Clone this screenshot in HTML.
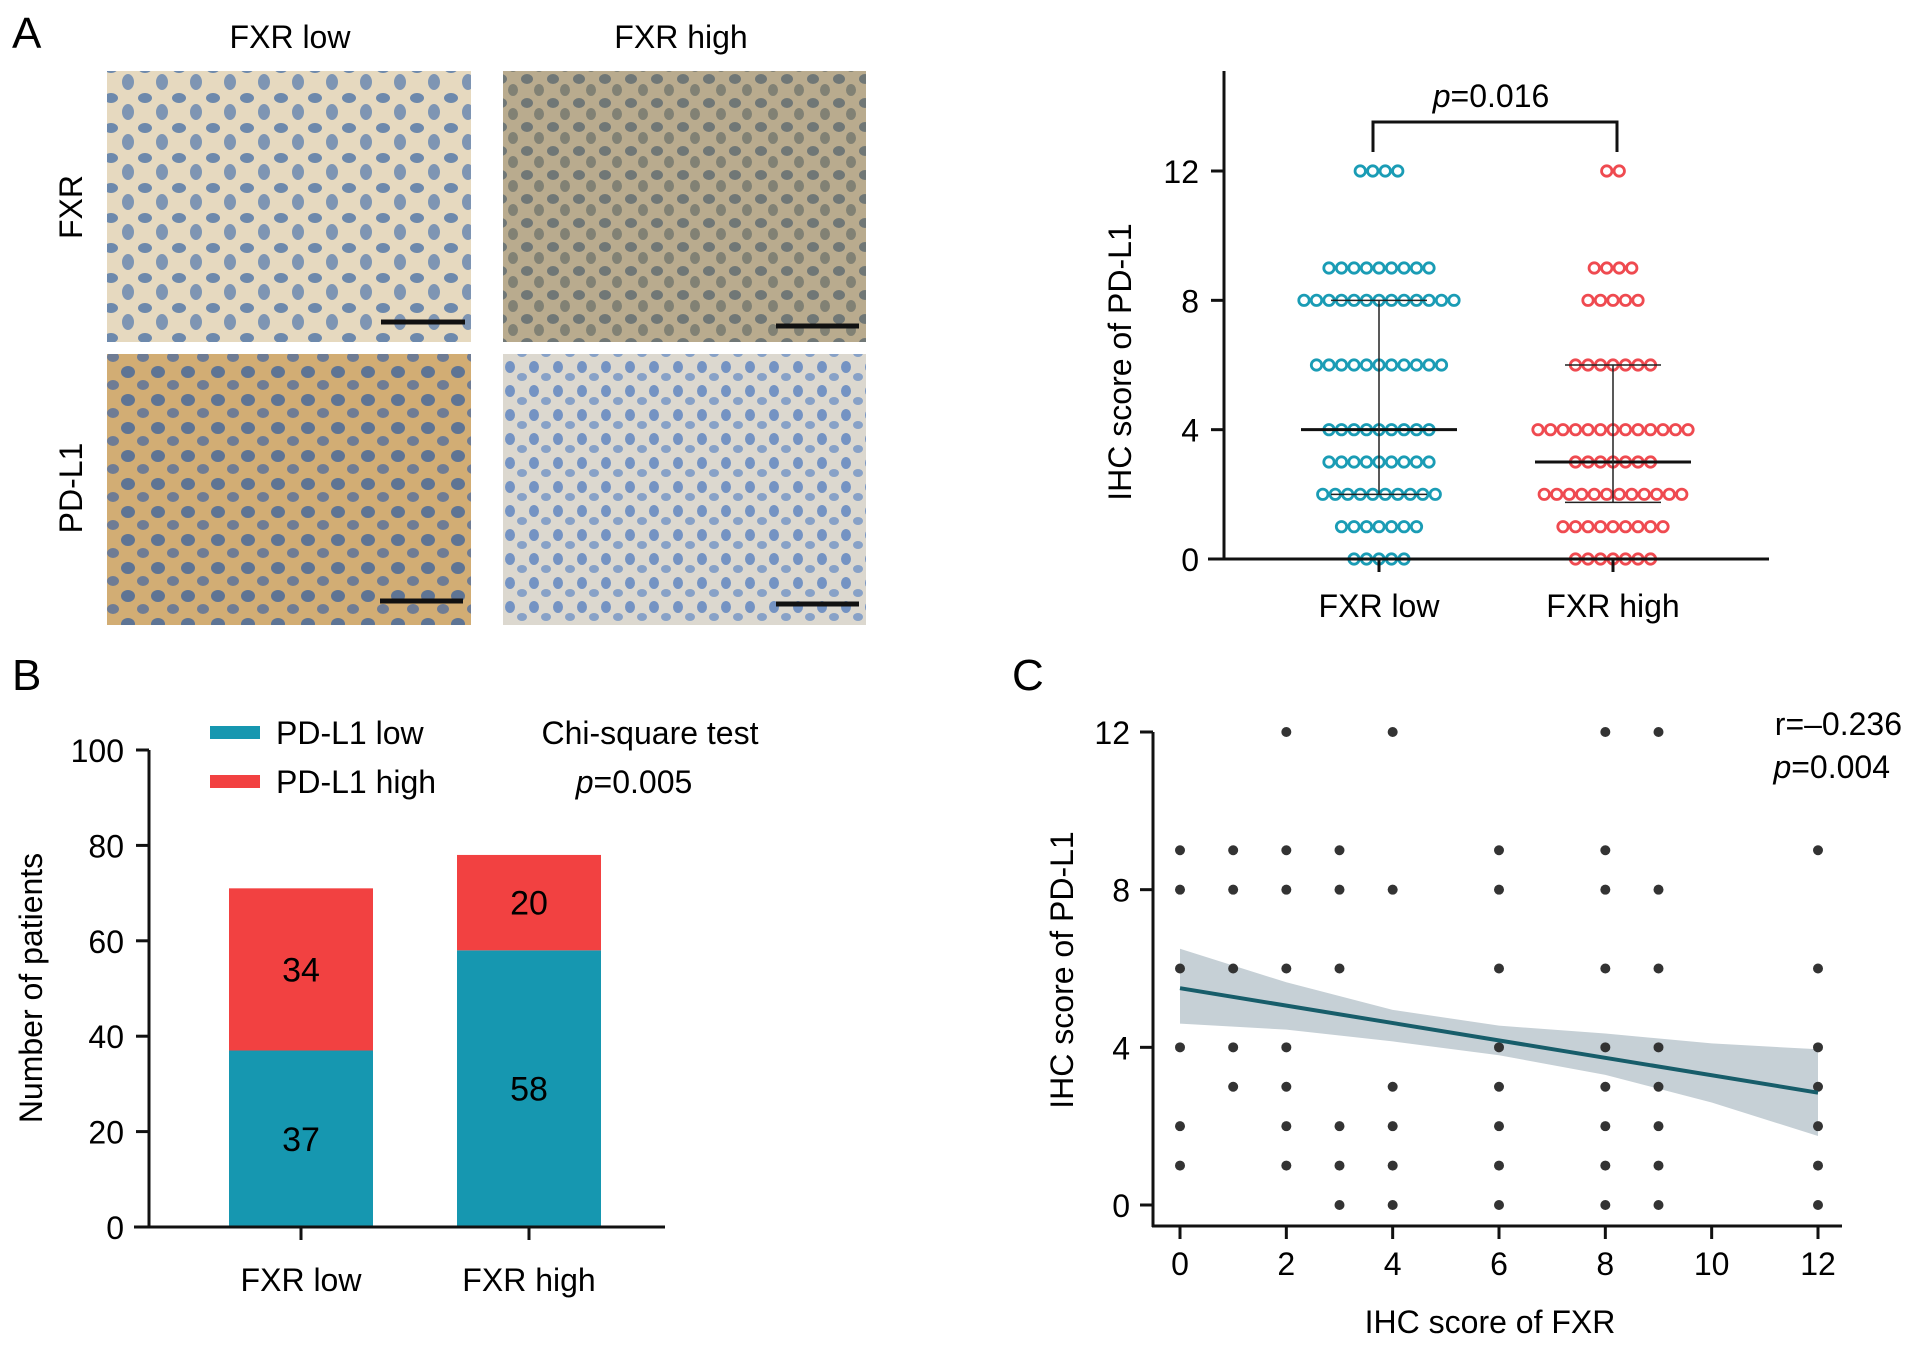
<!DOCTYPE html>
<html><head><meta charset="utf-8"><style>
body{margin:0;background:#fff;width:1913px;height:1348px;overflow:hidden;font-family:"Liberation Sans",Arial,sans-serif}
</style></head><body>
<svg id="fig" width="1913" height="1348" xmlns="http://www.w3.org/2000/svg" style="position:absolute;left:0;top:0;font-family:'Liberation Sans',Arial,sans-serif">
<defs>
<pattern id="nucA" width="34" height="30" patternUnits="userSpaceOnUse"><ellipse cx="9" cy="8" rx="7" ry="5" fill="#4f75a8" opacity="0.8"/><ellipse cx="26" cy="22" rx="6" ry="8" fill="#5a7fae" opacity="0.75"/></pattern>
<pattern id="nucB" width="26" height="24" patternUnits="userSpaceOnUse"><ellipse cx="7" cy="7" rx="6" ry="5" fill="#5e6a70" opacity="0.8"/><ellipse cx="19" cy="18" rx="5" ry="6" fill="#6a6f6a" opacity="0.7"/></pattern>
<pattern id="nucC" width="30" height="28" patternUnits="userSpaceOnUse"><ellipse cx="8" cy="8" rx="7" ry="6" fill="#4a6a9a" opacity="0.85"/><ellipse cx="23" cy="21" rx="6" ry="5" fill="#566f9c" opacity="0.8"/></pattern>
<pattern id="nucD" width="24" height="24" patternUnits="userSpaceOnUse"><ellipse cx="6" cy="7" rx="5" ry="6" fill="#5a82c0" opacity="0.8"/><ellipse cx="18" cy="17" rx="5" ry="4" fill="#6a8ec4" opacity="0.75"/></pattern>
</defs>
<g>
<rect x="107" y="71" width="364" height="271" fill="#e6d9bf"/>
<rect x="107" y="71" width="364" height="271" fill="url(#nucA)"/>
<rect x="503" y="71" width="363" height="271" fill="#b9ab8e"/>
<rect x="503" y="71" width="363" height="271" fill="url(#nucB)"/>
<rect x="107" y="354" width="364" height="271" fill="#d2ad74"/>
<rect x="107" y="354" width="364" height="271" fill="url(#nucC)"/>
<rect x="503" y="354" width="363" height="271" fill="#dcd8cf"/>
<rect x="503" y="354" width="363" height="271" fill="url(#nucD)"/>
<line x1="381" y1="322" x2="465" y2="322" stroke="#111" stroke-width="5"/>
<line x1="776" y1="326" x2="859" y2="326" stroke="#111" stroke-width="5"/>
<line x1="380" y1="601" x2="463" y2="601" stroke="#111" stroke-width="5"/>
<line x1="776" y1="604" x2="859" y2="604" stroke="#111" stroke-width="5"/>
</g>
<text x="12" y="48" font-size="44">A</text>
<text x="12" y="690" font-size="44">B</text>
<text x="1012" y="690" font-size="44">C</text>
<text x="290" y="48" font-size="32" text-anchor="middle">FXR low</text>
<text x="681" y="48" font-size="32" text-anchor="middle">FXR high</text>
<text transform="translate(82,207) rotate(-90)" font-size="32" text-anchor="middle">FXR</text>
<text transform="translate(82,488) rotate(-90)" font-size="32" text-anchor="middle">PD-L1</text>
<g id="scatA"></g>
<g id="barB"></g>
<g id="scatC"></g>
</svg>
<script>
const NS='http://www.w3.org/2000/svg';
function mk(p,t,a,txt){const e=document.createElementNS(NS,t);for(const k in a)e.setAttribute(k,a[k]);if(txt!==undefined)e.textContent=txt;p.appendChild(e);return e;}
const FS=32;

// ---- Panel A data ----
const aGroups=['FXR low','FXR high'];
const aLevels=[12,9,8,6,4,3,2,1,0];
const aCountsLow=[4,9,13,11,9,9,10,7,5];
const aCountsHigh=[2,4,5,7,13,7,12,9,7];
const aMedian=[4,3];
const aQ1=[2,1.75];
const aQ3=[8,6];
const aTicks=[0,4,8,12];
const aPText='=0.016';

// ---- Panel B data ----
const bCats=['FXR low','FXR high'];
const bLow=[37,58];
const bHigh=[34,20];
const bTicks=[0,20,40,60,80,100];

// ---- Panel C data ----
const cX=[0,0,0,0,0,0, 1,1,1,1,1, 2,2,2,2,2,2,2,2, 3,3,3,3,3,3, 4,4,4,4,4,4, 6,6,6,6,6,6,6,6, 8,8,8,8,8,8,8,8,8, 9,9,9,9,9,9,9,9, 12,12,12,12,12,12,12];
const cY=[9,8,6,4,2,1, 9,8,6,4,3, 12,9,8,6,4,3,2,1, 9,8,6,2,1,0, 12,8,3,2,1,0, 9,8,6,4,3,2,1,0, 12,9,8,6,4,3,2,1,0, 12,8,6,4,3,2,1,0, 9,6,4,3,2,1,0];
const cFitX=[0,12];
const cFitY=[5.5,2.85];
const cBandX=[0,2,4,6,8,10,12];
const cBandLo=[4.6,4.45,4.15,3.8,3.3,2.6,1.75];
const cBandHi=[6.5,5.65,4.95,4.55,4.35,4.1,3.95];
const cXTicks=[0,2,4,6,8,10,12];
const cYTicks=[0,4,8,12];

// ===== Panel A =====
(function(){
const g=document.getElementById('scatA');
const y=v=>559-v*(559-171)/12;
const gx=[1379,1613];
const cols=['#1a9cb5','#ef4a50'];
const counts=[aCountsLow,aCountsHigh];
const sp=12.5;
aGroups.forEach((nm,gi)=>{
  aLevels.forEach((lv,li)=>{
    const n=counts[gi][li];
    for(let k=0;k<n;k++){
      const c=mk(g,'circle',{cx:gx[gi]+(k-(n-1)/2)*sp,cy:y(lv),r:5.2,fill:'none',stroke:cols[gi],'stroke-width':2.8});
      
      
    }
  });
  const m=mk(g,'line',{x1:gx[gi]-78,x2:gx[gi]+78,y1:y(aMedian[gi]),y2:y(aMedian[gi]),stroke:'#111','stroke-width':3});
  
  
  const w=mk(g,'line',{x1:gx[gi],x2:gx[gi],y1:y(aQ1[gi]),y2:y(aQ3[gi]),stroke:'#222','stroke-width':1.5});
  
  
  [aQ1[gi],aQ3[gi]].forEach(v=>{
    const cap=mk(g,'line',{x1:gx[gi]-48,x2:gx[gi]+48,y1:y(v),y2:y(v),stroke:'#222','stroke-width':1.5});
    
    
  });
  mk(g,'line',{x1:gx[gi],x2:gx[gi],y1:559,y2:572,stroke:'#111','stroke-width':3});
  const t=mk(g,'text',{x:gx[gi],y:617,'font-size':FS,'text-anchor':'middle'},nm);
  
  
});
mk(g,'line',{x1:1224,x2:1224,y1:71,y2:560,stroke:'#111','stroke-width':3});
mk(g,'line',{x1:1208,x2:1769,y1:559,y2:559,stroke:'#111','stroke-width':3});
aTicks.forEach(v=>{
  mk(g,'line',{x1:1211,x2:1224,y1:y(v),y2:y(v),stroke:'#111','stroke-width':3});
  const t=mk(g,'text',{x:1199,y:y(v)+12,'font-size':FS,'text-anchor':'end'},v);
  
  
});
const yt=mk(g,'text',{transform:'translate(1131,362) rotate(-90)','font-size':FS,'text-anchor':'middle'},'IHC score of PD-L1');


mk(g,'path',{d:'M1373 152 V122 H1617 V152',fill:'none',stroke:'#111','stroke-width':3});
const pt=mk(g,'text',{x:1491,y:107,'font-size':FS,'text-anchor':'middle'});
mk(pt,'tspan',{'font-style':'italic'},'p');mk(pt,'tspan',{},aPText);


})();

// ===== Panel B =====
(function(){
const g=document.getElementById('barB');
const y=v=>1227-v*(1227-750)/100;
const bx=[229,457],bw=144;
bCats.forEach((c,i)=>{
  const r1=mk(g,'rect',{x:bx[i],y:y(bLow[i]),width:bw,height:y(0)-y(bLow[i]),fill:'#1697b0'});
  
  
  const r2=mk(g,'rect',{x:bx[i],y:y(bLow[i]+bHigh[i]),width:bw,height:y(bLow[i])-y(bLow[i]+bHigh[i]),fill:'#f24141'});
  
  
  const t1=mk(g,'text',{x:bx[i]+bw/2,y:(y(0)+y(bLow[i]))/2+12,'font-size':34,'text-anchor':'middle'},bLow[i]);
  
  
  const t2=mk(g,'text',{x:bx[i]+bw/2,y:(y(bLow[i])+y(bLow[i]+bHigh[i]))/2+12,'font-size':34,'text-anchor':'middle'},bHigh[i]);
  
  
  mk(g,'line',{x1:bx[i]+bw/2,x2:bx[i]+bw/2,y1:1227,y2:1240,stroke:'#111','stroke-width':3});
  const xl=mk(g,'text',{x:bx[i]+bw/2,y:1291,'font-size':FS,'text-anchor':'middle'},c);
  
  
});
mk(g,'line',{x1:149,x2:149,y1:750,y2:1228,stroke:'#111','stroke-width':3});
mk(g,'line',{x1:134,x2:665,y1:1227,y2:1227,stroke:'#111','stroke-width':3});
bTicks.forEach(v=>{
  mk(g,'line',{x1:136,x2:149,y1:y(v),y2:y(v),stroke:'#111','stroke-width':3});
  const t=mk(g,'text',{x:124,y:y(v)+12,'font-size':FS,'text-anchor':'end'},v);
  
  
});
const yt=mk(g,'text',{transform:'translate(42,988) rotate(-90)','font-size':FS,'text-anchor':'middle'},'Number of patients');


mk(g,'rect',{x:210,y:726,width:50,height:13,fill:'#1697b0'});
mk(g,'rect',{x:210,y:775,width:50,height:13,fill:'#f24141'});
const l1=mk(g,'text',{x:276,y:744,'font-size':FS},'PD-L1 low');


const l2=mk(g,'text',{x:276,y:793,'font-size':FS},'PD-L1 high');


const ch=mk(g,'text',{x:650,y:744,'font-size':FS,'text-anchor':'middle'},'Chi-square test');


const pv=mk(g,'text',{x:634,y:793,'font-size':FS,'text-anchor':'middle'});
mk(pv,'tspan',{'font-style':'italic'},'p');mk(pv,'tspan',{},'=0.005');


})();

// ===== Panel C =====
(function(){
const g=document.getElementById('scatC');
const x=v=>1180+v*(1818-1180)/12;
const y=v=>1205-v*(1205-732)/12;
let d='M'+cBandX.map((v,i)=>x(v)+' '+y(cBandHi[i])).join(' L');
for(let i=cBandX.length-1;i>=0;i--) d+=' L'+x(cBandX[i])+' '+y(cBandLo[i]);
const band=mk(g,'path',{d:d+' Z',fill:'#c6d0d6'});


cX.forEach((v,i)=>{
  const c=mk(g,'circle',{cx:x(v),cy:y(cY[i]),r:5,fill:'#333'});
  
  
});
const fl=mk(g,'line',{x1:x(cFitX[0]),y1:y(cFitY[0]),x2:x(cFitX[1]),y2:y(cFitY[1]),stroke:'#175d6a','stroke-width':4});


mk(g,'line',{x1:1153,x2:1153,y1:732,y2:1227,stroke:'#111','stroke-width':3});
mk(g,'line',{x1:1152,x2:1842,y1:1226,y2:1226,stroke:'#111','stroke-width':3});
cXTicks.forEach(v=>{
  mk(g,'line',{x1:x(v),x2:x(v),y1:1226,y2:1239,stroke:'#111','stroke-width':3});
  const t=mk(g,'text',{x:x(v),y:1275,'font-size':FS,'text-anchor':'middle'},v);
  
  
});
cYTicks.forEach(v=>{
  mk(g,'line',{x1:1140,x2:1153,y1:y(v),y2:y(v),stroke:'#111','stroke-width':3});
  const t=mk(g,'text',{x:1130,y:y(v)+12,'font-size':FS,'text-anchor':'end'},v);
  
  
});
const xt=mk(g,'text',{x:1490,y:1333,'font-size':FS,'text-anchor':'middle'},'IHC score of FXR');


const yt=mk(g,'text',{transform:'translate(1073,970) rotate(-90)','font-size':FS,'text-anchor':'middle'},'IHC score of PD-L1');


const r=mk(g,'text',{x:1902,y:735,'font-size':FS,'text-anchor':'end'},'r=\u20130.236');


const p=mk(g,'text',{x:1890,y:778,'font-size':FS,'text-anchor':'end'});
mk(p,'tspan',{'font-style':'italic'},'p');mk(p,'tspan',{},'=0.004');


})();
</script>
</body></html>
